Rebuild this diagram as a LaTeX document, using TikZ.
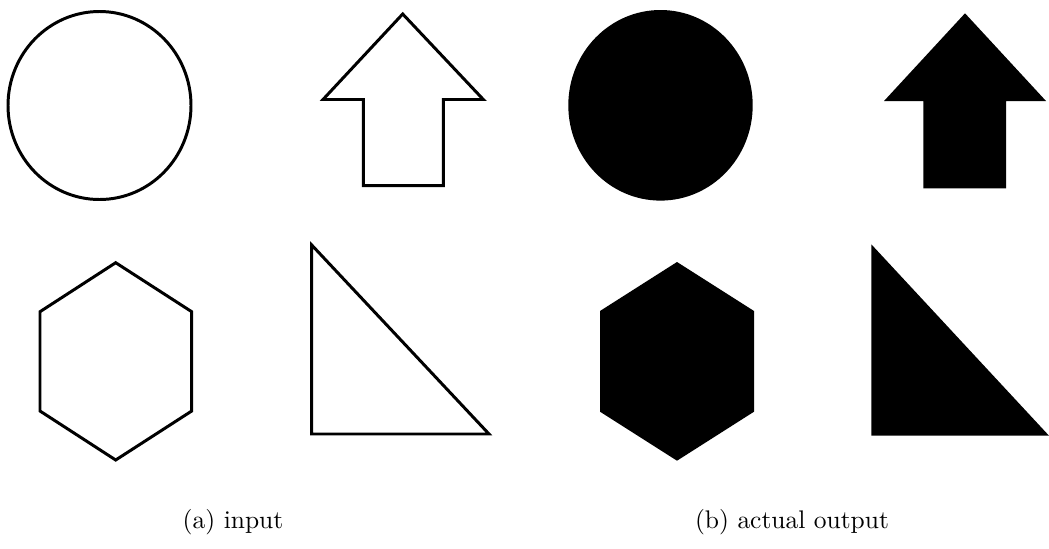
\documentclass[tikz,border=0pt]{standalone}
\usepackage{tikz}
\usetikzlibrary{positioning}

\begin{document}
\begin{tikzpicture}[
        x=0.42pt, y=-0.42pt,
        outline/.style={draw=black, line width=1.25pt, line join=miter, fill=white},
        solidshape/.style={fill=black, draw=none},
        caption/.style={anchor=base, font=\fontsize{10.7}{13}\selectfont, inner sep=0pt}
        ]
        \useasboundingbox (0,0) rectangle (1049,548);

        % (a) input: outlined shapes
        \draw[outline] (99.5,105.5) ellipse [x radius=91.5, y radius=94];
        \draw[outline] (402.7,14) -- (483.3,99.5) -- (443.3,99.5) -- (443.3,185.7)
            -- (363.3,185.7) -- (363.3,99.5) -- (323,99.5) -- cycle;
        \draw[outline] (115.7,262.7) -- (191.7,311.7) -- (191.7,411) -- (115.7,460)
            -- (40,411) -- (40,311.7) -- cycle;
        \draw[outline] (311.7,245) -- (489,434) -- (311.7,434) -- cycle;

        % (b) actual output: filled shapes
        \fill[solidshape] (660.5,105.3) ellipse [x radius=92.2, y radius=95.3];
        \fill[solidshape] (965,13.3) -- (1046,101) -- (1006,101) -- (1006,188.3)
            -- (923.3,188.3) -- (923.3,101) -- (884,101) -- cycle;
        \fill[solidshape] (677,262) -- (754,311) -- (754,411.7) -- (677,460.7)
            -- (600,411.7) -- (600,311) -- cycle;
        \fill[solidshape] (871.3,244.3) -- (1049,435.7) -- (871.3,435.7) -- cycle;

        % captions
        \node[caption] (capin) at (233,528) {(a) input};
        \node[caption] (capout) at (792,528) {(b) actual output};

    \end{tikzpicture}
\end{document}
